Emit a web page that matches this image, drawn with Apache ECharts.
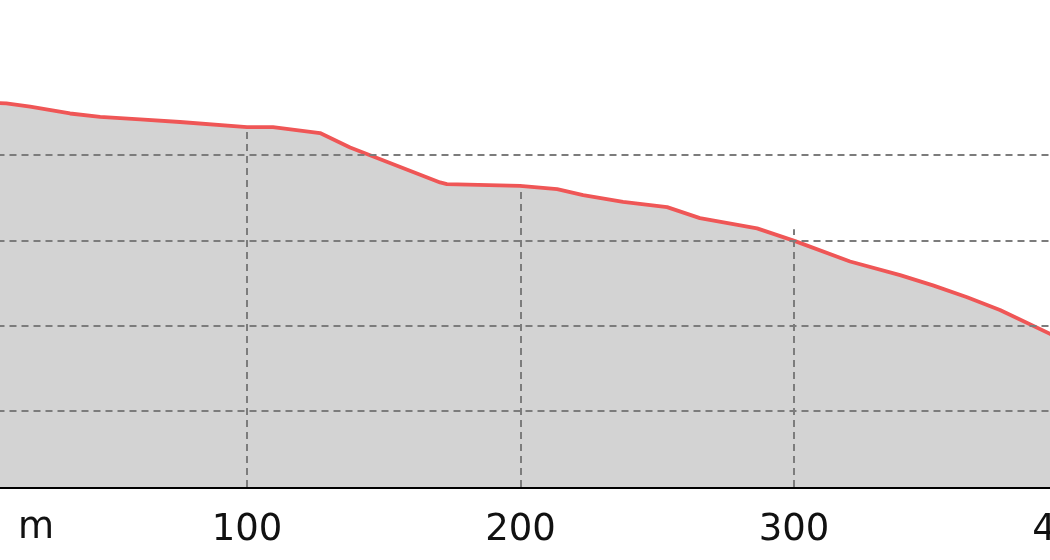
<!DOCTYPE html>
<html>
<head>
<meta charset="utf-8">
<script src="https://cdn.jsdelivr.net/npm/echarts@6/dist/echarts.min.js"></script>
<style>
html,body{margin:0;padding:0;background:#fff;}
#chart{width:1050px;height:560px;}
</style>
</head>
<body>
<div id="chart"></div>
<script>
// distance (m) along the profile
const distances = [0, 12, 20.7, 35.3, 46.3, 60.9, 75.5, 100, 109.5, 126.7, 137.7, 170.6, 173.1, 199.8, 213.4, 222.9, 237.5, 253.6, 265.6, 286.5, 300.4, 320.5, 338.8, 350.8, 363.3, 375.3, 393.6, 400];
// elevation values
const elevations = [136.2, 136.1, 135.7, 134.9, 134.5, 134.2, 133.9, 133.3, 133.3, 132.6, 130.9, 126.8, 126.6, 126.4, 126.0, 125.3, 124.5, 123.9, 122.6, 121.4, 119.9, 117.5, 115.9, 114.7, 113.3, 111.8, 109.0, 108.0];
// x tick values / labels
const xTicks = [0, 100, 200, 300, 400];
// horizontal grid values
const yGridValues = [100, 110, 120, 130];
// vertical grid positions and their top ends
const xGridValues = [100, 200, 300];
const xGridTops = [133.2, 126.2, 121.3];
const unitLabel = 'm';

const yMin = 91, yMax = 148.24;
const profile = distances.map((d, i) => [d, elevations[i]]);

const gridLineStyle = {color: '#7c7c7c', width: 2, type: [7, 5]};

const chart = echarts.init(document.getElementById('chart'), null, {renderer: 'canvas'});
chart.setOption({
  animation: false,
  backgroundColor: '#ffffff',
  grid: {left: -26.5, right: -17.5, top: 0, bottom: 73, containLabel: false, outerBoundsMode: 'none'},
  xAxis: {
    type: 'value', min: xTicks[0], max: xTicks[xTicks.length - 1], interval: 100,
    axisLine: {show: true, lineStyle: {color: '#000', width: 3}},
    axisTick: {show: false},
    splitLine: {show: false},
    axisLabel: {show: true, fontSize: 37, color: '#111', fontFamily: 'DejaVu Sans', margin: 25,
      showMinLabel: true, showMaxLabel: true, hideOverlap: false}
  },
  yAxis: {
    type: 'value', min: yMin, max: yMax,
    axisLine: {show: false}, axisTick: {show: false}, axisLabel: {show: false}, splitLine: {show: false}
  },
  graphic: [{
    type: 'text', left: 18, top: 510,
    style: {text: unitLabel, font: '37px "DejaVu Sans"', fill: '#111'}
  }],
  series: [
    {
      type: 'line', data: profile, z: 1, symbol: 'none', silent: true,
      lineStyle: {width: 0, opacity: 0},
      areaStyle: {color: '#d3d3d3', opacity: 1}
    },
    {
      type: 'line', data: [], z: 2, symbol: 'none', silent: true,
      markLine: {
        silent: true, symbol: 'none', label: {show: false}, animation: false,
        lineStyle: gridLineStyle,
        data: yGridValues.map(v => ({yAxis: v}))
          .concat(xGridValues.map((x, i) => [{coord: [x, yMin]}, {coord: [x, xGridTops[i]]}]))
      }
    },
    {
      type: 'line', data: profile, z: 3, symbol: 'none', silent: true,
      lineStyle: {color: '#ef5656', width: 3.8}
    }
  ]
});
</script>
</body>
</html>
